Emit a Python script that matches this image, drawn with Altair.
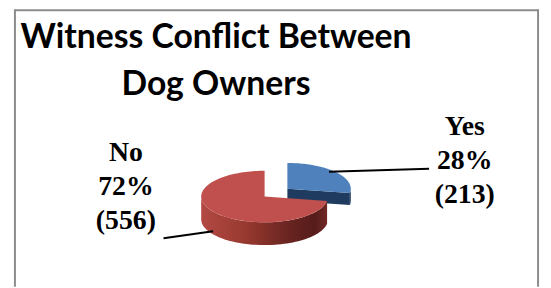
import math
import altair as alt
import pandas as pd

# ---------------- data ----------------
categories = ["Yes", "No"]
counts = [213, 556]
percents = [28, 72]
title_lines = ["Witness Conflict Between", "Dog Owners"]

# ---------------- style / layout ----------------
W, H = 540, 280            # svg drawing area (page offset 8px)
CX, CY = 259, 189          # pie centre in plot px
RX, RY = 64, 26            # ellipse radii in px
TILT = RY / RX
depth_px = {"Yes": 12, "No": 23}
explode = {"Yes": 0.47, "No": 0.0}
top_colors = {"Yes": "#4F81BD", "No": "#C0504D"}
side_colors = {"Yes": "#1F3B60"}
red_wall = alt.LinearGradient(
    gradient="linear", x1=0, x2=1, y1=0, y2=0,
    stops=[alt.GradientStop(color="#B34944", offset=0),
           alt.GradientStop(color="#98392F", offset=0.35),
           alt.GradientStop(color="#682421", offset=0.7),
           alt.GradientStop(color="#561C1A", offset=0.9),
           alt.GradientStop(color="#702724", offset=1)])

xdom = [-CX / RX, (W - CX) / RX]
ydom = [-(H - CY) / RX, CY / RX]
xs = alt.Scale(domain=xdom, nice=False, zero=False)
ys = alt.Scale(domain=ydom, nice=False, zero=False)

total = sum(counts)
slices = []
acc = 0.0
for c, n in zip(categories, counts):
    a0 = acc / total * 2 * math.pi
    acc += n
    a1 = acc / total * 2 * math.pi
    mid = (a0 + a1) / 2
    e = explode[c]
    slices.append(dict(cat=c, a0=a0, a1=a1,
                       ex=e * math.sin(mid), ey=TILT * e * math.cos(mid),
                       d=depth_px[c] / RX))


def pt(s, a, r=1.0, down=0.0):
    return (s["ex"] + r * math.sin(a), s["ey"] + TILT * r * math.cos(a) - down)


def arc(s, a0, a1, down=0.0, n=60):
    return [pt(s, a0 + (a1 - a0) * k / n, 1.0, down) for k in range(n + 1)]


def poly(points, name):
    return pd.DataFrame([{"face": name, "i": k, "x": p[0], "y": p[1]}
                         for k, p in enumerate(points)])


def layer(df, fill):
    return alt.Chart(df).mark_line(fill=fill, strokeWidth=0).encode(
        x=alt.X("x:Q", scale=xs, axis=None),
        y=alt.Y("y:Q", scale=ys, axis=None),
        order="i:Q", detail="face:N")


layers = []
half = math.pi / 2
yes = slices[0]
no = slices[1]

# Yes slice (exploded, behind): radial face at its end angle, front wall, top
C = pt(yes, 0, 0.0)
E = pt(yes, yes["a1"])
layers.append(layer(poly([C, E, pt(yes, yes["a1"], 1, yes["d"]),
                          pt(yes, 0, 0.0, yes["d"])], "yes_radial"), side_colors["Yes"]))
w0, w1 = max(yes["a0"], half), min(yes["a1"], 3 * half)
layers.append(layer(poly(arc(yes, w0, w1) + arc(yes, w1, w0, yes["d"]), "yes_wall"),
                    side_colors["Yes"]))
layers.append(layer(poly([C] + arc(yes, yes["a0"], yes["a1"]), "yes_top"), top_colors["Yes"]))

# No slice: front wall then top
w0, w1 = max(no["a0"], half), min(no["a1"], 3 * half)
layers.append(layer(poly(arc(no, w0, w1) + arc(no, w1, w0, no["d"]), "no_wall"), red_wall))
layers.append(layer(poly([pt(no, 0, 0.0)] + arc(no, no["a0"], no["a1"], n=120), "no_top"),
                    top_colors["No"]))

# ---------------- leader lines ----------------
leaders = pd.DataFrame({
    "cat": categories,
    "x1": [324, 157], "y1": [164, 231],
    "x2": [425, 207], "y2": [161, 224],
})
lead = alt.Chart(leaders).mark_rule(color="black", strokeWidth=2).encode(
    x=alt.X("x1:Q", scale=None), y=alt.Y("y1:Q", scale=None),
    x2="x2:Q", y2="y2:Q")

# ---------------- data labels ----------------
lab_rows = []
lab_pos = {"Yes": (461, 127), "No": (119, 153)}
for c, p, n in zip(categories, percents, counts):
    lx, ly = lab_pos[c]
    for k, t in enumerate([c, f"{p}%", f"({n})"]):
        lab_rows.append({"t": t, "px": lx, "py": ly + k * 34.5})
labels = alt.Chart(pd.DataFrame(lab_rows)).mark_text(
    font="Liberation Serif", fontWeight="bold", fontSize=28,
    align="center", baseline="alphabetic", color="black").encode(
    x=alt.X("px:Q", scale=None), y=alt.Y("py:Q", scale=None), text="t:N")

# ---------------- title ----------------
trows = [{"t": t, "px": 210, "py": 39 + k * 47} for k, t in enumerate(title_lines)]
title = alt.Chart(pd.DataFrame(trows)).mark_text(
    font="Lato", fontWeight="bold", fontSize=34,
    align="center", baseline="alphabetic", color="black").encode(
    x=alt.X("px:Q", scale=None), y=alt.Y("py:Q", scale=None), text="t:N")

# ---------------- frame ----------------
frame = pd.DataFrame({"x1": [7, 7, 535], "y1": [1, 0, 0], "x2": [535, 7, 535], "y2": [1, H, H]})
border = alt.Chart(frame).mark_rule(color="#8C8C8C", strokeWidth=2).encode(
    x=alt.X("x1:Q", scale=None), y=alt.Y("y1:Q", scale=None),
    x2="x2:Q", y2="y2:Q")

chart = alt.layer(border, *layers, lead, labels, title).properties(
    width=W, height=H, padding=0, autosize=alt.AutoSizeParams(type="none")
).configure_view(stroke=None).resolve_scale(x="independent", y="independent")

chart.save("out.html", embed_options={"renderer": "svg", "actions": False})
